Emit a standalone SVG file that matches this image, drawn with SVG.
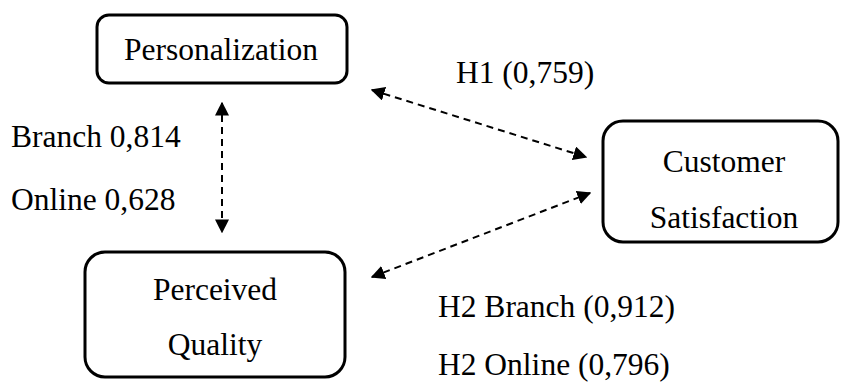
<svg xmlns="http://www.w3.org/2000/svg" width="842" height="383" viewBox="0 0 842 383">
  <style>
    .box { fill: #ffffff; stroke: #000000; stroke-width: 3; }
    .lbl { font-family: "Liberation Serif", "Times New Roman", serif; font-size: 31.5px; fill: #000000; }
    .mid { text-anchor: middle; }
    .link { fill: none; stroke: #000000; stroke-width: 2; stroke-dasharray: 7 5; }
  </style>
  <defs>
    <marker id="head" viewBox="0 0 10 10" refX="9" refY="5" markerWidth="14" markerHeight="14" orient="auto-start-reverse" markerUnits="userSpaceOnUse">
      <path d="M0,0 L10,5 L0,10 z" fill="#000000"/>
    </marker>
  </defs>

  <g id="node-personalization">
    <rect class="box" x="97" y="15" width="250" height="68" rx="12"/>
    <text class="lbl mid" x="221" y="60">Personalization</text>
  </g>

  <g id="node-perceived-quality">
    <rect class="box" x="85" y="252" width="260" height="125" rx="20"/>
    <text class="lbl mid" x="215" y="300">Perceived</text>
    <text class="lbl mid" x="215" y="355">Quality</text>
  </g>

  <g id="node-customer-satisfaction">
    <rect class="box" x="603" y="121" width="235" height="121" rx="20"/>
    <text class="lbl mid" x="724" y="172">Customer</text>
    <text class="lbl mid" x="724" y="228">Satisfaction</text>
  </g>

  <g id="connectors">
    <line class="link" x1="222" y1="103" x2="222" y2="232" marker-start="url(#head)" marker-end="url(#head)"/>
    <line class="link" x1="372" y1="90" x2="586" y2="157" marker-start="url(#head)" marker-end="url(#head)"/>
    <line class="link" x1="372" y1="277" x2="590" y2="193" marker-start="url(#head)" marker-end="url(#head)"/>
  </g>

  <g id="labels">
    <text class="lbl" x="11" y="147">Branch 0,814</text>
    <text class="lbl" x="11" y="210">Online 0,628</text>
    <text class="lbl" x="456" y="83">H1 (0,759)</text>
    <text class="lbl" x="438" y="317">H2 Branch (0,912)</text>
    <text class="lbl" x="438" y="375">H2 Online (0,796)</text>
  </g>
</svg>
